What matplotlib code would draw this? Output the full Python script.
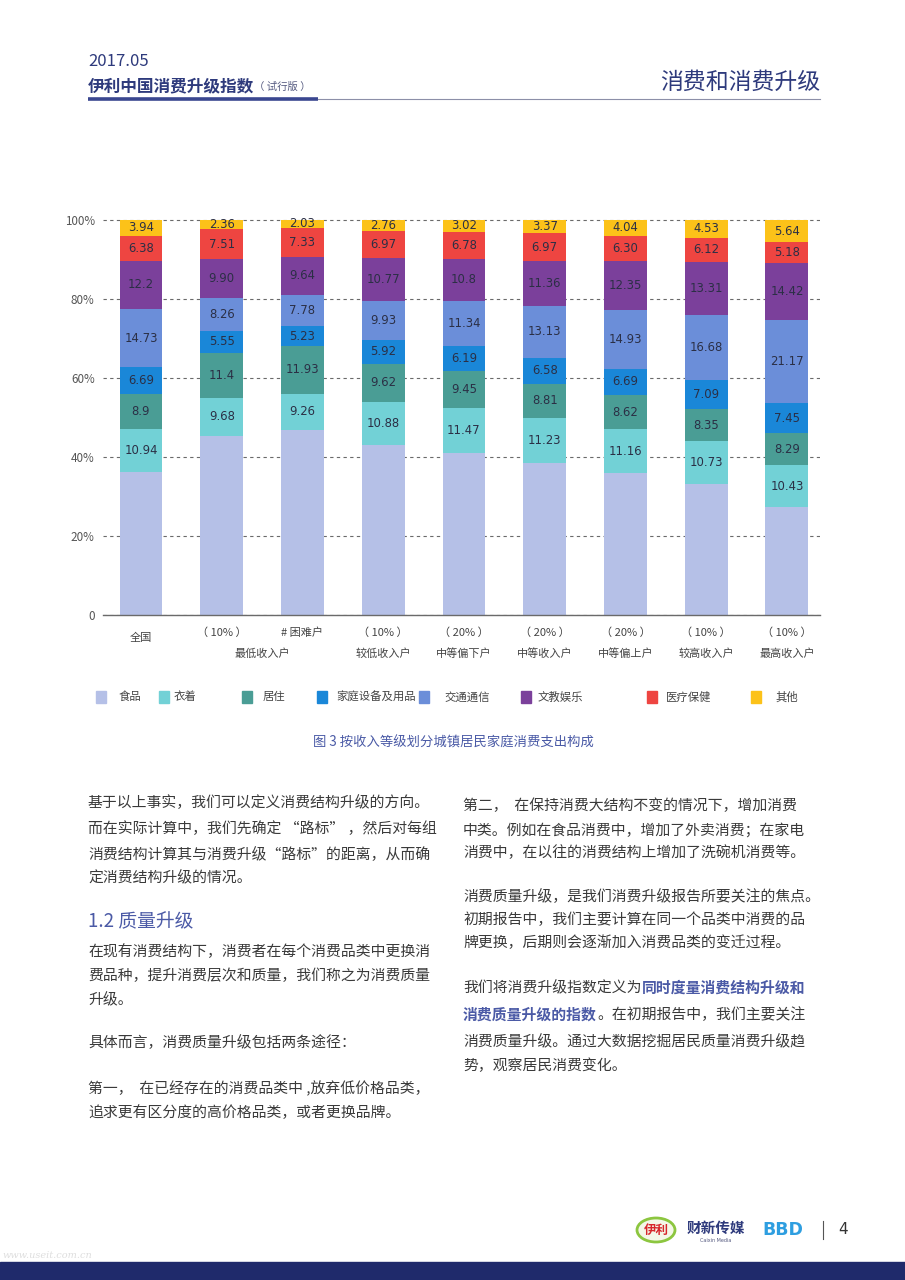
import numpy as np
import matplotlib.pyplot as plt
from matplotlib.patches import Rectangle, Ellipse

plt.rcParams['font.family'] = ['Noto Sans CJK SC', 'DejaVu Sans']

# data (percent of household consumption spending)
top_labels = ['全国', '（ 10% ）', '# 困难户', '（ 10% ）', '（ 20% ）', '（ 20% ）', '（ 20% ）', '（ 10% ）', '（ 10% ）']
group_labels = ['', '最低收入户', '最低收入户', '较低收入户', '中等偏下户', '中等收入户', '中等偏上户', '较高收入户', '最高收入户']

series_names = ['食品', '衣着', '居住', '家庭设备及用品', '交通通信', '文教娱乐', '医疗保健', '其他']
food = ['36.22', '45.34', '46.80', '43.15', '40.95', '38.55', '35.91', '33.19', '27.42']
clothing = ['10.94', '9.68', '9.26', '10.88', '11.47', '11.23', '11.16', '10.73', '10.43']
housing = ['8.9', '11.4', '11.93', '9.62', '9.45', '8.81', '8.62', '8.35', '8.29']
household = ['6.69', '5.55', '5.23', '5.92', '6.19', '6.58', '6.69', '7.09', '7.45']
transport = ['14.73', '8.26', '7.78', '9.93', '11.34', '13.13', '14.93', '16.68', '21.17']
culture = ['12.2', '9.90', '9.64', '10.77', '10.8', '11.36', '12.35', '13.31', '14.42']
medical = ['6.38', '7.51', '7.33', '6.97', '6.78', '6.97', '6.30', '6.12', '5.18']
other = ['3.94', '2.36', '2.03', '2.76', '3.02', '3.37', '4.04', '4.53', '5.64']

series = [food, clothing, housing, household, transport, culture, medical, other]
colors = ['#b5c0e7', '#72d1d6', '#4a9d95', '#1a87d8', '#6b8ed9', '#7b409b', '#ee4541', '#fcc219']

navy = '#2e3a7c'
txt = '#3a3a3a'

fig = plt.figure(figsize=(9.05, 12.8), dpi=100)

# page layer in pixel coords
bg = fig.add_axes([0, 0, 1, 1])
bg.set_xlim(0, 905)
bg.set_ylim(1280, 0)
bg.axis('off')

# header
bg.text(88, 62, '2017.05', fontsize=12, color=navy, va='center', ha='left', fontweight='light')
t_h = bg.text(88, 86, '伊利中国消费升级指数', fontsize=12, color=navy, va='center', ha='left', fontweight='bold')
bg.annotate('（ 试行版 ）', xy=(1, 0.45), xycoords=t_h, fontsize=7.5, color='#555a80', va='center', ha='left')
bg.text(820, 82, '消费和消费升级', fontsize=16.5, color=navy, va='center', ha='right', fontweight='light')
bg.plot([88, 318], [98.5, 98.5], color='#3a4790', lw=2.6, solid_capstyle='butt')
bg.plot([318, 820], [98.5, 98.5], color='#8c8fa8', lw=0.8)

# chart
ax = fig.add_axes([103 / 905, 1 - 615 / 1280, 717 / 905, 399 / 1280])
x = np.arange(len(top_labels))
bottom = np.zeros(len(x))
for name, vals, color in zip(series_names, series, colors):
    v = np.array([float(s) for s in vals])
    ax.bar(x, v, width=0.53, bottom=bottom, color=color, zorder=2)
    if name != '食品':
        for xi, b, vi, s in zip(x, bottom, v, vals):
            ax.text(xi, b + vi / 2, s, ha='center', va='center', fontsize=8.4,
                    color='#2b2f45', zorder=3, family='DejaVu Sans')
    bottom += v

ax.set_xlim(-0.47, 8.41)
ax.set_ylim(0, 101)
ax.set_yticks([0, 20, 40, 60, 80, 100])
ax.set_yticklabels(['0', '20%', '40%', '60%', '80%', '100%'])
ax.tick_params(axis='y', length=0, pad=6, labelsize=8.4, labelcolor='#555555')
ax.set_xticks([])
ax.set_axisbelow(True)
ax.yaxis.grid(True, linestyle=(0, (3, 3)), color='#6a6a6a', lw=0.8)
for s in ['left', 'right', 'top']:
    ax.spines[s].set_visible(False)
ax.spines['bottom'].set_color('#6a6a6a')
ax.spines['bottom'].set_linewidth(1.0)
ax.spines['bottom'].set_zorder(3)

for xi, lab in zip(x, top_labels):
    dy = -23 if xi == 0 else -18
    ax.annotate(lab, xy=(xi, 0), xytext=(0, dy * 0.72), textcoords='offset points',
                ha='center', va='center', fontsize=8, color='#444444')
for g in dict.fromkeys(group_labels):
    if not g:
        continue
    idx = [i for i, gl in enumerate(group_labels) if gl == g]
    ax.annotate(g, xy=(np.mean(idx), 0), xytext=(0, -39 * 0.72), textcoords='offset points',
                ha='center', va='center', fontsize=8, color='#444444')

# legend
leg_x = [101, 164, 247, 322, 424, 526, 652, 756]
leg_gap = [18, 10, 16, 14, 20, 12, 14, 19]
for lx, gap, name, color in zip(leg_x, leg_gap, series_names, colors):
    bg.add_patch(Rectangle((lx - 5, 691), 10, 12, color=color))
    bg.text(lx + gap, 697, name, fontsize=8.2, color='#444444', va='center', ha='left')

bg.text(453, 743, '图 3 按收入等级划分城镇居民家庭消费支出构成', fontsize=9.6, color='#4a5aa6',
        va='center', ha='center', fontweight='medium')

# body text, left column
fs = 10.7
left_lines = [
    (803, '基于以上事实，我们可以定义消费结构升级的方向。'),
    (829, '而在实际计算中，我们先确定 “路标” ，然后对每组'),
    (855, '消费结构计算其与消费升级“路标”的距离，从而确'),
    (878, '定消费结构升级的情况。'),
    (952, '在现有消费结构下，消费者在每个消费品类中更换消'),
    (976, '费品种，提升消费层次和质量，我们称之为消费质量'),
    (1000, '升级。'),
    (1043, '具体而言，消费质量升级包括两条途径：'),
    (1089, '第一，  在已经存在的消费品类中 ,放弃低价格品类，'),
    (1113, '追求更有区分度的高价格品类，或者更换品牌。'),
]
for yy, s in left_lines:
    bg.text(88, yy, s, fontsize=fs, color=txt, va='center', ha='left')
bg.text(88, 922, '1.2 质量升级', fontsize=13.5, color='#4b5aa6', va='center', ha='left')

right_lines = [
    (806, '第二，  在保持消费大结构不变的情况下，增加消费'),
    (830, '中类。例如在食品消费中，增加了外卖消费；在家电'),
    (853, '消费中，在以往的消费结构上增加了洗碗机消费等。'),
    (897, '消费质量升级，是我们消费升级报告所要关注的焦点。'),
    (920, '初期报告中，我们主要计算在同一个品类中消费的品'),
    (943, '牌更换，后期则会逐渐加入消费品类的变迁过程。'),
    (1042, '消费质量升级。通过大数据挖掘居民质量消费升级趋'),
    (1066, '势，观察居民消费变化。'),
]
for yy, s in right_lines:
    bg.text(463, yy, s, fontsize=fs, color=txt, va='center', ha='left')

hl = '#4b5aa6'
t1 = bg.text(463, 988, '我们将消费升级指数定义为', fontsize=fs, color=txt, va='center', ha='left')
bg.annotate('同时度量消费结构升级和', xy=(1, 0.5), xycoords=t1, fontsize=fs, color=hl,
            fontweight='bold', va='center', ha='left')
t2 = bg.text(463, 1015, '消费质量升级的指数', fontsize=fs, color=hl, fontweight='bold', va='center', ha='left')
bg.annotate('。在初期报告中，我们主要关注', xy=(1, 0.5), xycoords=t2, fontsize=fs, color=txt,
            va='center', ha='left')

# footer
bg.add_patch(Ellipse((656, 1230), 38, 24, facecolor='#f4f7e8', edgecolor='#8cc63f', lw=2))
bg.text(656, 1230, '伊利', fontsize=9, color='#d7262b', fontweight='bold', style='italic',
        va='center', ha='center')
bg.text(716, 1228, '财新传媒', fontsize=10.5, color='#2e3a7c', fontweight='bold', va='center', ha='center')
bg.text(716, 1241, 'Caixin Media', fontsize=3.5, color='#555a80', va='center', ha='center', family='DejaVu Sans')
bg.text(783, 1230, 'BBD', fontsize=12.5, color='#2e9ee0', fontweight='heavy', va='center', ha='center',
        family='DejaVu Sans')
bg.plot([823, 823], [1221, 1239], color='#555555', lw=0.8)
bg.text(843, 1230, '4', fontsize=11, color='#333333', va='center', ha='center', family='DejaVu Sans')
bg.add_patch(Rectangle((0, 1262), 905, 18, color='#1f2a6b'))
bg.text(2, 1256, 'www.useit.com.cn', fontsize=7, color='#c8c8c8', style='italic', va='center',
        ha='left', family='DejaVu Serif', alpha=0.6)

fig.savefig('out.png', dpi=100)
